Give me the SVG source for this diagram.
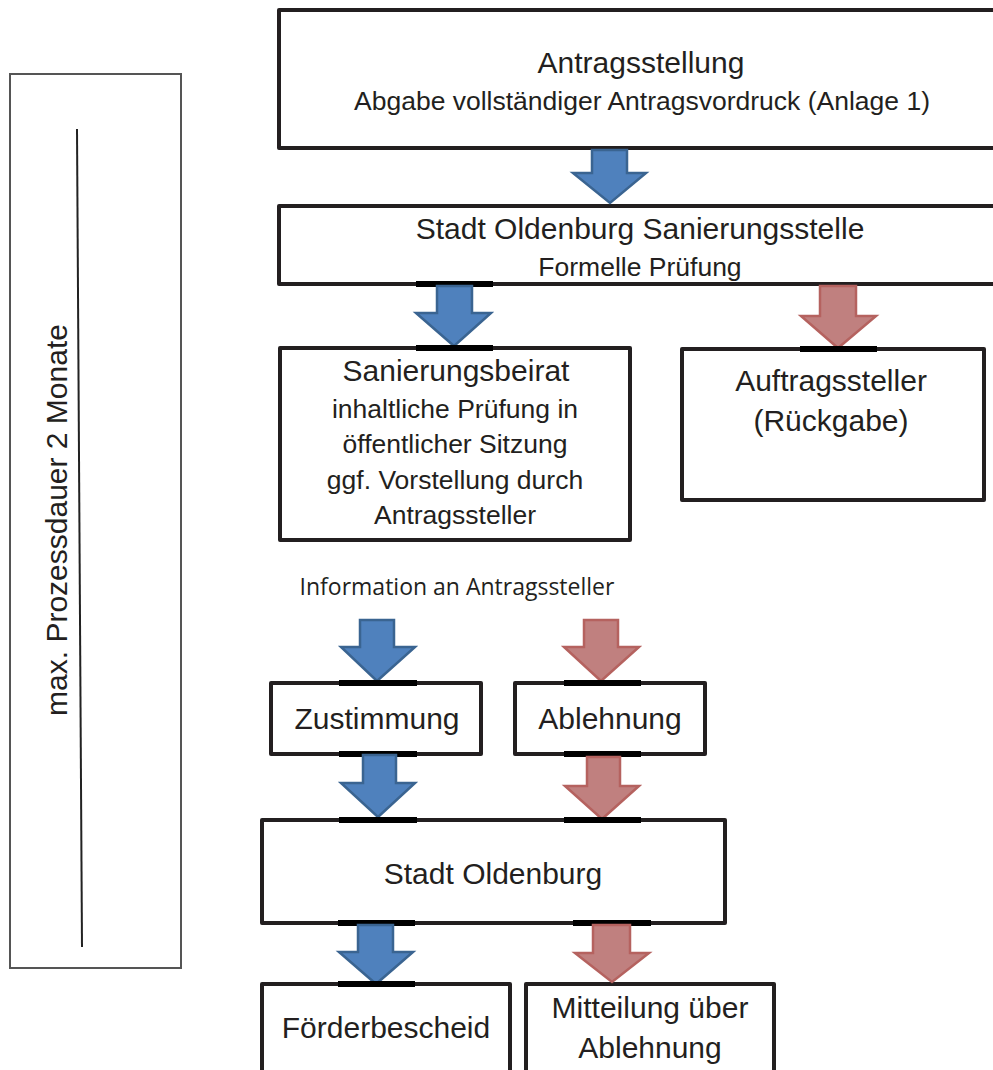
<svg xmlns="http://www.w3.org/2000/svg" width="993" height="1070" viewBox="0 0 993 1070">
<style>
.box{fill:#fff;stroke:#231f20;stroke-width:4;stroke-linejoin:round}
.t{font-family:"Liberation Sans",Arial,sans-serif;fill:#231f20;text-anchor:middle}
.h{font-size:30px}
.s{font-size:26.5px}
.blue{fill:#4f81bd;stroke:#3a6491;stroke-width:2.5}
.red{fill:#c0807f;stroke:#b5625f;stroke-width:2.5}
.bar{fill:#000}
</style>
<rect width="993" height="1070" fill="#fff"/>
<g id="duration">
<rect x="10" y="74" width="171" height="894" fill="#fff" stroke="#555" stroke-width="2"/>
<line x1="77" y1="129" x2="82" y2="947" stroke="#222" stroke-width="2"/>
<text class="t h" transform="translate(67,520) rotate(-90)">max. Prozessdauer 2 Monate</text>
</g>
<g id="antragsstellung">
<rect class="box" x="279" y="10" width="730" height="138"/>
<text class="t h" x="641" y="73">Antragsstellung</text>
<text class="t s" x="642" y="110">Abgabe vollständiger Antragsvordruck (Anlage 1)</text>
</g>
<g id="sanierungsstelle">
<rect class="box" x="279" y="206" width="730" height="78"/>
<text class="t h" x="640" y="239">Stadt Oldenburg Sanierungsstelle</text>
<text class="t s" x="640" y="276">Formelle Prüfung</text>
</g>
<g id="sanierungsbeirat">
<rect class="box" x="280" y="348" width="350" height="192"/>
<text class="t h" x="456" y="381">Sanierungsbeirat</text>
<text class="t s" x="455" y="418">inhaltliche Prüfung in</text>
<text class="t s" x="455" y="453">öffentlicher Sitzung</text>
<text class="t s" x="455" y="489">ggf. Vorstellung durch</text>
<text class="t s" x="455" y="524">Antragssteller</text>
</g>
<g id="auftragssteller">
<rect class="box" x="682" y="349" width="302" height="151"/>
<text class="t h" x="831" y="391">Auftragssteller</text>
<text class="t h" x="831" y="431">(Rückgabe)</text>
</g>
<g id="info">
<text x="457" y="595" font-family="'Open Sans',sans-serif" font-size="23" fill="#231f20" text-anchor="middle">Information an Antragssteller</text>
</g>
<g id="zustimmung">
<rect class="box" x="271" y="683" width="210" height="71"/>
<text class="t h" x="377" y="729">Zustimmung</text>
</g>
<g id="ablehnung">
<rect class="box" x="515" y="683" width="190" height="71"/>
<text class="t h" x="610" y="729">Ablehnung</text>
</g>
<g id="stadt">
<rect class="box" x="262" y="820" width="463" height="103"/>
<text class="t h" x="493" y="884">Stadt Oldenburg</text>
</g>
<g id="foerderbescheid">
<rect class="box" x="262" y="984" width="248" height="110"/>
<text class="t h" x="386" y="1038">Förderbescheid</text>
</g>
<g id="mitteilung">
<rect class="box" x="526" y="984" width="248" height="110"/>
<text class="t h" x="650" y="1018">Mitteilung über</text>
<text class="t h" x="650" y="1058">Ablehnung</text>
</g>
<g id="connectors">
<polygon class="blue" points="592,150 627,150 627,173 646,173 610,203 573,173 592,173"/>
<rect class="bar" x="416" y="281" width="77" height="6"/>
<polygon class="blue" points="437,286 472,286 472,313 491,313 454,346 416,313 437,313"/>
<rect class="bar" x="416" y="345" width="77" height="6"/>
<polygon class="red" points="820,286 856,286 856,316 876,316 838,348 801,316 820,316"/>
<rect class="bar" x="800" y="346" width="77" height="6"/>
<polygon class="blue" points="360,620 394,620 394,647 415,647 377,681 341,647 360,647"/>
<rect class="bar" x="339" y="680" width="78" height="6"/>
<polygon class="red" points="584,620 618,620 618,647 639,647 601,681 564,647 584,647"/>
<rect class="bar" x="564" y="680" width="77" height="6"/>
<rect class="bar" x="339" y="751" width="78" height="6"/>
<rect class="bar" x="564" y="751" width="77" height="6"/>
<polygon class="blue" points="363,755 396,755 396,783 415,783 378,817 341,783 363,783"/>
<rect class="bar" x="339" y="817" width="78" height="6"/>
<polygon class="red" points="587,757 620,757 620,786 639,786 602,819 565,786 587,786"/>
<rect class="bar" x="564" y="817" width="77" height="6"/>
<rect class="bar" x="338" y="920" width="77" height="6"/>
<rect class="bar" x="573" y="920" width="78" height="6"/>
<polygon class="blue" points="358,925 393,925 393,952 413,952 376,984 339,952 358,952"/>
<rect class="bar" x="338" y="981" width="77" height="6"/>
<polygon class="red" points="593,925 630,925 630,953 649,953 612,982 575,953 593,953"/>
</g>
</svg>
